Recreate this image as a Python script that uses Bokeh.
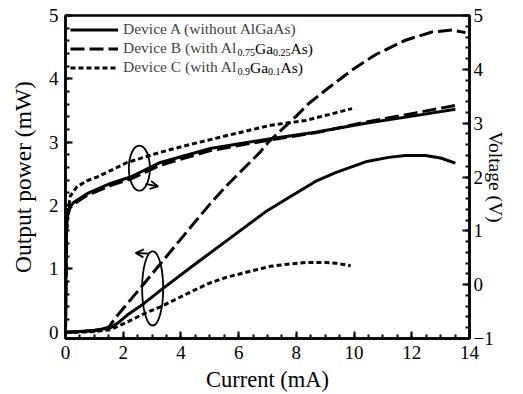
from bokeh.plotting import figure
from bokeh.models import (Range1d, LinearAxis, SingleIntervalTicker, Legend, LegendItem,
                          Label, Arrow, OpenHead)
from bokeh.embed import file_html
from bokeh.resources import INLINE

# ---------------- data ----------------
# Output power (mW) vs current (mA)
a_pow_i = [0, 0.5, 1.0, 1.56, 1.8, 2.14, 2.71, 3.29, 4.45, 5.6, 6.93, 7.97, 8.66, 9.36, 10.4, 11.2, 11.78, 12.47, 13.0, 13.51]
a_pow_p = [0.0, 0.01, 0.03, 0.07, 0.14, 0.27, 0.45, 0.66, 1.06, 1.45, 1.90, 2.19, 2.38, 2.52, 2.69, 2.76, 2.79, 2.79, 2.75, 2.67]

b_pow_i = [0, 0.5, 1.0, 1.5, 1.79, 2.14, 2.71, 3.29, 3.87, 4.45, 5.02, 5.6, 6.06, 6.76, 7.03, 7.97, 8.43, 9.01, 9.93, 10.74, 11.78, 12.7, 13.4, 13.86]
b_pow_p = [0.0, 0.01, 0.02, 0.08, 0.26, 0.45, 0.76, 1.08, 1.40, 1.72, 2.03, 2.32, 2.53, 2.85, 3.0, 3.40, 3.61, 3.82, 4.14, 4.38, 4.61, 4.74, 4.77, 4.73]

c_pow_i = [0, 0.5, 1.0, 1.56, 2.14, 2.71, 3.29, 3.87, 4.45, 5.02, 5.6, 6.3, 7.1, 7.62, 8.32, 9.01, 9.36, 9.88]
c_pow_p = [0.0, 0.0, 0.01, 0.04, 0.16, 0.29, 0.40, 0.53, 0.66, 0.78, 0.87, 0.95, 1.04, 1.07, 1.10, 1.10, 1.09, 1.05]

# Voltage (V) vs current (mA)
a_volt_i = [0, 0.03, 0.06, 0.15, 0.29, 0.75, 1.56, 2.25, 3.29, 5.02, 7.10, 8.66, 10.4, 12.13, 13.51]
a_volt_v = [-0.9, 0.9, 1.28, 1.45, 1.53, 1.69, 1.88, 2.0, 2.27, 2.53, 2.71, 2.83, 3.0, 3.14, 3.26]

b_volt_i = [0, 0.03, 0.06, 0.15, 0.29, 0.75, 1.56, 2.25, 3.29, 5.02, 7.10, 8.66, 10.4, 12.13, 13.51]
b_volt_v = [-0.9, 0.9, 1.25, 1.42, 1.50, 1.66, 1.84, 1.96, 2.22, 2.49, 2.69, 2.82, 3.02, 3.19, 3.33]

c_volt_i = [0, 0.03, 0.08, 0.17, 0.4, 0.75, 1.1, 2.14, 3.29, 4.44, 5.6, 7.1, 8.32, 9.93]
c_volt_v = [-0.9, 0.9, 1.35, 1.65, 1.82, 1.93, 2.0, 2.27, 2.46, 2.62, 2.77, 2.96, 3.05, 3.27]

legend_labels = ["Device A (without AlGaAs)", "Device B (with Al", "Device C (with Al"]
legend_tail_b = ["0.75", "Ga", "0.25", "As)"]
legend_tail_c = ["0.9", "Ga", "0.1", "As)"]

# annotation marks (ellipses + arrows) in data units of the power axis
ell_x = [2.56, 3.02]
ell_y = [2.59, 0.69]
ell_w = [0.73, 0.73]
ell_h = [0.71, 1.17]
arrow_start = [(2.77, 2.34), (2.89, 1.24)]
arrow_end = [(3.21, 2.30), (2.43, 1.25)]

FONT = "Liberation Serif"

p = figure(frame_width=404, frame_height=323, output_backend="svg", toolbar_location=None,
           x_range=Range1d(0, 14), y_range=Range1d(-0.1, 5),
           min_border_left=65, min_border_right=30, min_border_top=15, min_border_bottom=30)
p.extra_y_ranges = {"v": Range1d(-1, 5)}
p.xgrid.visible = False
p.ygrid.visible = False
p.outline_line_color = "black"
p.outline_line_width = 2.5
p.background_fill_color = "white"
p.border_fill_color = "white"

# power curves
ra = p.line(a_pow_i, a_pow_p, line_color="black", line_width=3)
rb = p.line(b_pow_i, b_pow_p, line_color="black", line_width=3, line_dash="14 5")
rc = p.line(c_pow_i, c_pow_p, line_color="black", line_width=3, line_dash="5 3")
# voltage curves
p.line(a_volt_i, a_volt_v, line_color="black", line_width=3, y_range_name="v")
p.line(b_volt_i, b_volt_v, line_color="black", line_width=3, line_dash="14 5", y_range_name="v")
p.line(c_volt_i, c_volt_v, line_color="black", line_width=3, line_dash="5 3", y_range_name="v")

# ellipses & arrows
p.ellipse(x=ell_x, y=ell_y, width=ell_w, height=ell_h, fill_color=None,
          line_color="black", line_width=1.8)
for (xs, ys), (xe, ye) in zip(arrow_start, arrow_end):
    p.add_layout(Arrow(end=OpenHead(size=8, line_width=1.8), x_start=xs, y_start=ys,
                       x_end=xe, y_end=ye, line_width=1.8, line_color="black"))

# axes
def style_axis(ax, label_size):
    ax.axis_line_width = 2.5
    ax.major_tick_in = 7
    ax.major_tick_out = 0
    ax.minor_tick_in = 4
    ax.minor_tick_out = 0
    ax.major_tick_line_width = 2
    ax.minor_tick_line_width = 2
    ax.major_label_text_font = FONT
    ax.major_label_text_font_size = "19px"
    ax.major_label_text_color = "black"
    ax.axis_label_text_font = FONT
    ax.axis_label_text_font_size = label_size
    ax.axis_label_text_font_style = "normal"
    ax.axis_label_text_color = "black"

p.xaxis.ticker = SingleIntervalTicker(interval=2, num_minor_ticks=4)
p.yaxis.ticker = SingleIntervalTicker(interval=1, num_minor_ticks=5)
p.xaxis.axis_label = "Current (mA)"
p.yaxis.axis_label = "Output power (mW)"
style_axis(p.xaxis[0], "22.5px")
style_axis(p.yaxis[0], "23.5px")
p.xaxis.major_label_standoff = 7
p.xaxis.axis_label_standoff = 5
p.yaxis.major_label_standoff = 7
p.yaxis.axis_label_standoff = 10

vax = LinearAxis(y_range_name="v", ticker=SingleIntervalTicker(interval=1, num_minor_ticks=5),
                 axis_label="Voltage (V)")
style_axis(vax, "19.5px")
vax.major_label_standoff = 4
vax.axis_label_standoff = -12
p.add_layout(vax, "right")

# legend
legend = Legend(items=[LegendItem(label=legend_labels[0], renderers=[ra]),
                       LegendItem(label=legend_labels[1], renderers=[rb]),
                       LegendItem(label=legend_labels[2], renderers=[rc])],
                location="top_left", margin=2, padding=3, spacing=1,
                glyph_width=48, glyph_height=17, label_height=17, label_standoff=5,
                label_text_font=FONT, label_text_font_size="15.5px",
                border_line_alpha=0, background_fill_alpha=0)
p.add_layout(legend)

# subscript continuation of the legend labels
offsets = [172.1, 189.6, 207.5, 225.0]
offsets_c = [172.1, 184.6, 202.5, 215.0]
for row_y, tails, offs in [(-32.5, legend_tail_b, offsets), (-52.0, legend_tail_c, offsets_c)]:
    for k, (t, xo) in enumerate(zip(tails, offs)):
        sub = k in (0, 2)
        p.add_layout(Label(x=0, y=5, x_offset=xo, y_offset=row_y - (4 if sub else 0),
                           text=t, text_font=FONT,
                           text_font_size="10px" if sub else "15.5px",
                           text_baseline="middle", text_align="left", text_color="black"))

open("out.html", "w").write(file_html(p, INLINE))
